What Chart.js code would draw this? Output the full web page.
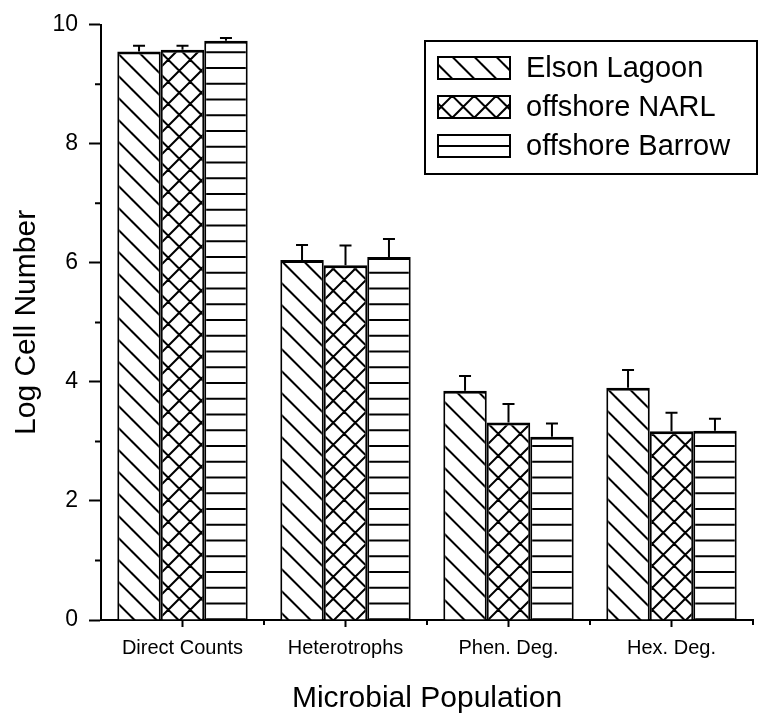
<!DOCTYPE html>
<html><head><meta charset="utf-8">
<script src="https://cdn.jsdelivr.net/npm/chart.js@4"></script>
<style>html,body{margin:0;padding:0;background:#fff}</style>
</head><body>
<canvas id="c" width="760" height="714"></canvas>
<script>
// ---- data ----
const categories = ['Direct Counts', 'Heterotrophs', 'Phen. Deg.', 'Hex. Deg.'];
const seriesNames = ['Elson Lagoon', 'offshore NARL', 'offshore Barrow'];
const elsonLagoon = [9.55, 6.05, 3.85, 3.90];
const offshoreNARL = [9.58, 5.96, 3.32, 3.17];
const offshoreBarrow = [9.73, 6.10, 3.08, 3.18];
const elsonErr = [0.10, 0.25, 0.25, 0.30];
const narlErr = [0.07, 0.33, 0.31, 0.31];
const barrowErr = [0.05, 0.30, 0.22, 0.20];
const yMin = 0, yMax = 10, yStep = 2, yMinorStep = 1;

const canvas = document.getElementById('c');
const ctx = canvas.getContext('2d');
const FONT = '"Liberation Sans", Arial, sans-serif';

function makePattern(kind) {
  const c = document.createElement('canvas');
  let w = 22, h = 22;
  if (kind === 'h') { w = 8; h = 63; }
  c.width = w; c.height = h;
  const g = c.getContext('2d');
  g.fillStyle = '#fff'; g.fillRect(0, 0, w, h);
  g.strokeStyle = '#000'; g.lineWidth = 2;
  g.beginPath();
  if (kind === 'd' || kind === 'x') {
    for (let k = -2; k <= 2; k++) { g.moveTo(-5, -5 + 1.5 + 22 * k); g.lineTo(27, 27 + 1.5 + 22 * k); }
  }
  if (kind === 'x') {
    for (let k = -1; k <= 3; k++) { g.moveTo(-5, 22 * k + 5 + 8); g.lineTo(27, 22 * k - 27 + 8); }
  }
  if (kind === 'h') {
    for (let i = 0; i < 4; i++) { const y = 5 + 15.75 * i; g.moveTo(0, y); g.lineTo(w, y); }
  }
  g.stroke();
  return ctx.createPattern(c, 'repeat');
}
const patterns = [makePattern('d'), makePattern('x'), makePattern('h')];

const errPlugin = {
  id: 'errbars',
  afterDatasetsDraw(chart) {
    const c = chart.ctx, y = chart.scales.y;
    chart.data.datasets.forEach((ds, i) => {
      const meta = chart.getDatasetMeta(i);
      meta.data.forEach((bar, j) => {
        const top = y.getPixelForValue(ds.data[j] + ds.errors[j]);
        c.save();
        c.strokeStyle = '#000'; c.lineWidth = 2;
        c.beginPath();
        c.moveTo(bar.x, bar.y); c.lineTo(bar.x, top);
        c.moveTo(bar.x - 6, top); c.lineTo(bar.x + 6, top);
        c.stroke();
        c.restore();
      });
    });
  }
};

const axisPlugin = {
  id: 'minorTicks',
  afterDraw(chart) {
    const c = chart.ctx, x = chart.scales.x, y = chart.scales.y, ca = chart.chartArea;
    c.save();
    c.strokeStyle = '#000'; c.lineWidth = 2;
    c.beginPath();
    for (let v = yMin + yMinorStep; v < yMax; v += yStep) {
      const py = y.getPixelForValue(v);
      c.moveTo(ca.left - 6, py); c.lineTo(ca.left, py);
    }
    const n = categories.length;
    for (let i = 0; i < n; i++) {
      const px = x.getPixelForValue(i);
      c.moveTo(px, ca.bottom); c.lineTo(px, ca.bottom + 7);
    }
    for (let i = 1; i <= n; i++) {
      const px = (x.getPixelForValue(i - 1) + (i < n ? x.getPixelForValue(i) : 2 * x.getPixelForValue(i - 1) - x.getPixelForValue(i - 2))) / 2;
      c.moveTo(px, ca.bottom); c.lineTo(px, ca.bottom + 5);
    }
    c.stroke();
    c.restore();
  }
};

const legendPlugin = {
  id: 'boxLegend',
  afterDraw(chart) {
    const c = chart.ctx;
    const L = 425, T = 41, R = 757, B = 174;
    const rows = [68, 107, 146];
    c.save();
    c.fillStyle = '#fff'; c.fillRect(L, T, R - L, B - T);
    c.lineWidth = 2; c.strokeStyle = '#000'; c.strokeRect(L, T, R - L, B - T);
    chart.data.datasets.forEach((ds, i) => {
      const cy = rows[i];
      c.save();
      c.translate(438, cy - 5);
      c.fillStyle = ds.backgroundColor;
      c.fillRect(0, 5 - 11, 72, 22);
      c.lineWidth = 2; c.strokeStyle = '#000';
      c.strokeRect(0, 5 - 11, 72, 22);
      c.restore();
      c.fillStyle = '#000';
      c.font = '29px ' + FONT;
      c.textBaseline = 'middle';
      c.textAlign = 'left';
      c.fillText(ds.label, 526, cy + 1);
    });
    c.restore();
  }
};

const seriesValues = [elsonLagoon, offshoreNARL, offshoreBarrow];
const seriesErrors = [elsonErr, narlErr, barrowErr];

new Chart(ctx, {
  type: 'bar',
  data: {
    labels: categories,
    datasets: seriesNames.map((name, i) => ({
      label: name,
      data: seriesValues[i],
      errors: seriesErrors[i],
      backgroundColor: patterns[i],
      borderColor: '#000',
      borderWidth: { top: 3, left: 2, right: 2, bottom: 0 },
      categoryPercentage: 0.8,
      barPercentage: 1
    }))
  },
  options: {
    responsive: false,
    animation: false,
    devicePixelRatio: 1,
    layout: { padding: { top: 23, right: 7, bottom: 0, left: 0 } },
    plugins: { legend: { display: false }, tooltip: { enabled: false } },
    scales: {
      x: {
        grid: { display: true, drawOnChartArea: false, drawTicks: false },
        border: { display: true, color: '#000', width: 2 },
        ticks: { color: '#000', font: { family: FONT, size: 20 }, padding: 16, maxRotation: 0, autoSkip: false },
        title: { display: true, text: 'Microbial Population', color: '#000', font: { family: FONT, size: 30, lineHeight: 1 }, padding: { top: 0, bottom: 0 } },
        afterFit(s) { s.height = 94; }
      },
      y: {
        min: yMin, max: yMax,
        ticks: { stepSize: yStep, color: '#000', font: { family: FONT, size: 23 }, padding: 11 },
        grid: { drawOnChartArea: false, drawTicks: true, tickLength: 12, tickWidth: 2, tickColor: '#000' },
        border: { display: true, color: '#000', width: 2 },
        title: { display: true, text: 'Log Cell Number', color: '#000', font: { family: FONT, size: 30, lineHeight: 1 }, padding: { top: 12, bottom: 0 } },
        afterFit(s) { s.width = 101; }
      }
    }
  },
  plugins: [errPlugin, axisPlugin, legendPlugin]
});
</script>
</body></html>
